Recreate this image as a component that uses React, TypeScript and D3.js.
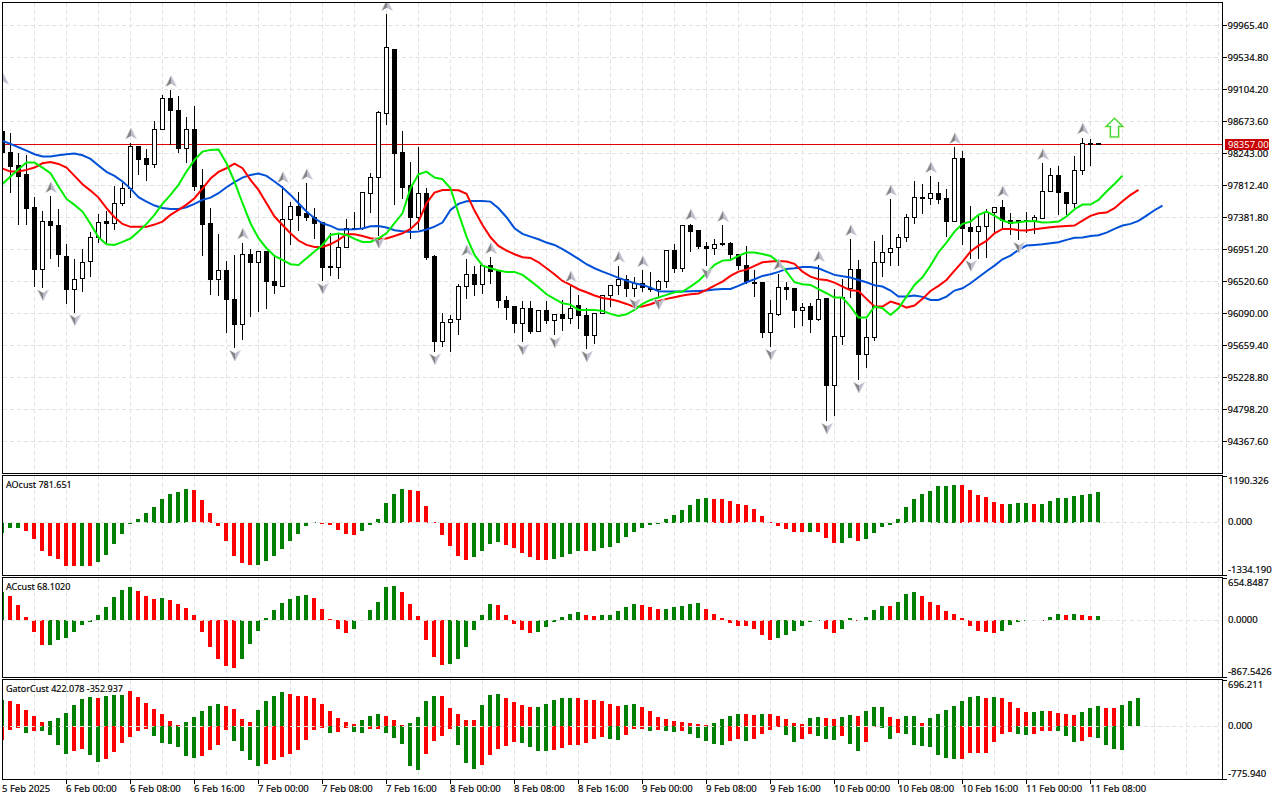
import React, { useEffect, useRef } from "react";
import * as d3 from "d3";

const opens = [
  98531, 98257, 98073, 97952, 97508, 96678, 97329, 97275, 96849, 96409,
  96557, 96786, 97113, 97320, 97302, 97571, 97773, 98338, 98168, 98091,
  98567, 98984, 98822, 98311, 98567, 97804, 97293, 96548, 96669, 96279,
  95938, 96885, 96773, 96916, 96521, 96454, 97356, 97531, 97427, 97383,
  97306, 96714, 96705, 96974, 97230, 97230, 97701, 97921, 98782, 99643,
  98257, 97804, 97374, 97706, 96849, 95710, 95965, 96006, 96454, 96616,
  96477, 96728, 96660, 96266, 96176, 95952, 96158, 95844, 96131, 95992,
  96077, 96019, 96199, 96064, 95790, 96091, 96333, 96468, 96548, 96427,
  96490, 96418, 96405, 96517, 96939, 96692, 97275, 97199, 96992, 96961,
  97033, 97033, 96885, 96737, 96508, 96499, 95835, 96073, 96441, 96418,
  96127, 96176, 96001, 96283, 95118, 95781, 96423, 96683, 95535, 95763,
  96777, 96912, 96979, 97113, 97383, 97652, 97638, 97706, 97629, 97324,
  98177, 97248, 97190, 97257, 97445, 97517, 97338, 97324, 97338, 97338,
  97369, 97728, 97948, 97719, 97567, 98011, 98378, 98378,
];
const highs = [
  99130, 98526, 98253, 98221, 97656, 97468, 97670, 97495, 97024, 96822,
  96957, 97185, 97427, 97468, 97804, 97849, 98392, 98338, 98302, 98688,
  99029, 99096, 99024, 98742, 98881, 98033, 97508, 97158, 96804, 96876,
  97046, 96957, 96925, 96916, 96876, 97804, 97589, 97723, 97845, 97508,
  97306, 97181, 97167, 97360, 97454, 97723, 97988, 98813, 100119, 99643,
  98544, 98136, 98329, 97786, 96885, 96104, 96068, 96486, 96822, 96737,
  96750, 96849, 96660, 96324, 96190, 96257, 96257, 96145, 96257, 96091,
  96270, 96468, 96338, 96172, 96104, 96346, 96481, 96733, 96607, 96580,
  96674, 96647, 96548, 96952, 97024, 97288, 97302, 97212, 97060, 97091,
  97279, 97051, 96885, 96997, 96674, 96499, 96270, 96629, 96512, 96418,
  96239, 96239, 96741, 96283, 96418, 96562, 97091, 96809, 96015, 97064,
  97145, 97629, 97167, 97436, 97872, 97831, 97939, 97858, 97764, 98329,
  98275, 97535, 97414, 97495, 97517, 97616, 97450, 97338, 97463, 97414,
  98114, 98055, 98073, 97732, 98208, 98459, 98446, 98392,
];
const lows = [
  98253, 97715, 97279, 97279, 96450, 96436, 96822, 96719, 96216, 96100,
  96378, 96580, 97042, 97019, 97212, 97535, 97643, 97952, 97872, 98051,
  98558, 98360, 98253, 98114, 97737, 96862, 96338, 96324, 95831, 95624,
  95732, 96046, 96109, 96149, 96351, 96454, 97010, 97199, 97333, 97091,
  96526, 96593, 96553, 96974, 97212, 97212, 97441, 97140, 98625, 97553,
  97629, 97091, 97212, 96809, 95575, 95642, 95575, 95799, 96284, 96324,
  96351, 96486, 96163, 96001, 95826, 95705, 95822, 95840, 95947, 95799,
  95853, 95952, 95880, 95611, 95678, 96082, 96176, 96338, 96315, 96315,
  96387, 96387, 96315, 96432, 96638, 96647, 96916, 96957, 96728, 96876,
  97006, 96831, 96683, 96486, 96315, 95759, 95638, 96064, 96270, 95893,
  95920, 95831, 95988, 94642, 94709, 95665, 96306, 95194, 95355, 95723,
  96580, 96728, 96728, 97051, 97293, 97427, 97549, 97562, 97127, 97324,
  97010, 96831, 96822, 96840, 97167, 97235, 97154, 97078, 97181, 97167,
  97360, 97728, 97414, 97423, 97513, 97957, 98073, 98357,
];
const closes = [
  98253, 98064, 97930, 97495, 96674, 97329, 97266, 96876, 96409, 96548,
  96777, 97113, 97315, 97302, 97571, 97773, 98338, 98159, 98091, 98567,
  98984, 98818, 98307, 98567, 97795, 97284, 96544, 96669, 96275, 95934,
  96885, 96773, 96925, 96517, 96463, 97356, 97531, 97405, 97378, 97297,
  96705, 96705, 96979, 97235, 97235, 97710, 97921, 98795, 99670, 98239,
  97777, 97374, 97706, 96835, 95710, 95970, 96010, 96454, 96616, 96477,
  96728, 96651, 96261, 96167, 95947, 96158, 95840, 96131, 95992, 96077,
  96015, 96158, 96059, 95790, 96091, 96333, 96468, 96548, 96423, 96486,
  96441, 96409, 96517, 96939, 96692, 97275, 97190, 96983, 96961, 97015,
  97015, 96876, 96732, 96512, 96494, 95831, 96091, 96441, 96405, 96122,
  96172, 96001, 96279, 95113, 95781, 96306, 96683, 95535, 95768, 96777,
  96912, 96966, 97113, 97383, 97652, 97638, 97706, 97620, 97324, 98177,
  97230, 97190, 97257, 97450, 97517, 97338, 97302, 97338, 97324, 97383,
  97732, 97948, 97715, 97567, 98015, 98378, 98369, 98357,
];

// alligator lines, already shifted forward like on the terminal
const jaw = [
  98410, 98369, 98325, 98280, 98230, 98199, 98199, 98217, 98230, 98239,
  98217, 98168, 98078, 97993, 97939, 97863, 97768, 97652, 97593, 97540,
  97508, 97495, 97495, 97517, 97562, 97616, 97647, 97706, 97786, 97854,
  97916, 97952, 97970, 97939, 97863, 97782, 97683, 97571, 97459, 97369,
  97302, 97266, 97217, 97217, 97221, 97230, 97262, 97266, 97244, 97208,
  97194, 97185, 97190, 97217, 97257, 97311, 97481, 97562, 97598, 97602,
  97602, 97593, 97504, 97383, 97235, 97158, 97122, 97087, 97042, 97010,
  96952, 96889, 96822, 96750, 96696, 96651, 96611, 96566, 96530, 96494,
  96472, 96436, 96387, 96382, 96382, 96382, 96387, 96391, 96396, 96409,
  96418, 96418, 96459, 96508, 96548, 96593, 96616, 96647, 96687, 96696,
  96714, 96714, 96696, 96651, 96607, 96589, 96571, 96539, 96508, 96468,
  96450, 96396, 96315, 96315, 96329, 96311, 96270, 96270, 96315, 96396,
  96427, 96494, 96575, 96656, 96732, 96817, 96867, 96943, 97001, 97010,
  97019, 97033, 97046, 97078, 97105, 97109, 97131, 97140, 97176, 97226,
  97271, 97293, 97333, 97405, 97477, 97540,
];
const teeth = [
  98037, 97997, 97997, 98020, 98051, 98109, 98127, 98100, 98051, 97939,
  97827, 97741, 97647, 97504, 97383, 97293, 97253, 97253, 97253, 97284,
  97324, 97414, 97481, 97553, 97638, 97768, 97903, 97993, 98042, 98105,
  98042, 97885, 97750, 97571, 97392, 97279, 97167, 97069, 97010, 96983,
  96983, 97019, 97078, 97154, 97154, 97131, 97100, 97091, 97096, 97131,
  97167, 97226, 97324, 97571, 97714, 97750, 97750, 97746, 97697, 97472,
  97279, 97113, 96997, 96934, 96885, 96844, 96835, 96777, 96696, 96616,
  96526, 96472, 96414, 96373, 96329, 96297, 96279, 96252, 96216, 96176,
  96181, 96212, 96252, 96284, 96306, 96329, 96346, 96356, 96405, 96463,
  96517, 96593, 96651, 96678, 96728, 96777, 96786, 96795, 96786, 96755,
  96651, 96584, 96548, 96539, 96503, 96450, 96400, 96391, 96284, 96181,
  96181, 96248, 96216, 96167, 96194, 96284, 96391, 96459, 96539, 96665,
  96786, 96921, 97001, 97064, 97167, 97226, 97226, 97208, 97203, 97221,
  97235, 97248, 97257, 97266, 97271, 97338, 97401, 97436, 97445, 97504,
  97598, 97683, 97750,
];
const lips = [
  97831, 97930, 98028, 98118, 98118, 98051, 97975, 97795, 97629, 97549,
  97459, 97293, 97113, 97019, 97010, 97051, 97096, 97190, 97293, 97414,
  97562, 97683, 97818, 97997, 98154, 98266, 98289, 98293, 98109, 97863,
  97571, 97302, 97100, 96966, 96862, 96808, 96750, 96741, 96831, 96921,
  97010, 97145, 97163, 97145, 97091, 97051, 97051, 97100, 97167, 97302,
  97436, 97773, 97961, 97997, 97916, 97894, 97773, 97436, 97122, 96876,
  96732, 96696, 96665, 96647, 96647, 96607, 96526, 96441, 96346, 96284,
  96225, 96207, 96136, 96136, 96136, 96122, 96082, 96055, 96077, 96136,
  96216, 96270, 96302, 96338, 96373, 96382, 96450, 96526, 96629, 96741,
  96799, 96808, 96862, 96907, 96907, 96889, 96862, 96782, 96651, 96508,
  96481, 96472, 96414, 96360, 96302, 96302, 96181, 96033, 96033, 96181,
  96158, 96068, 96158, 96315, 96472, 96575, 96732, 96912, 97042, 97190,
  97293, 97324, 97414, 97459, 97405, 97338, 97306, 97315, 97329, 97333,
  97311, 97315, 97324, 97392, 97490, 97553, 97553, 97616, 97728, 97831,
  97943,
];

const aoValues = [
  -272, -144, -144, -221, -425, -731, -858, -935, -1096, -1113,
  -1096, -1113, -1011, -833, -552, -297, -42, 102, 255, 408,
  612, 739, 790, 867, 841, 586, 255, -93, -476, -858,
  -1037, -1088, -1088, -986, -858, -680, -476, -297, -93, 25,
  -17, -68, -195, -297, -323, -221, -68, 102, 510, 739,
  867, 841, 816, 433, 25, -323, -603, -858, -960, -884,
  -731, -552, -501, -578, -654, -782, -884, -960, -960, -935,
  -884, -807, -731, -731, -731, -654, -629, -527, -374, -246,
  -144, -68, -17, 102, 204, 331, 459, 612, 637, 612,
  612, 561, 484, 459, 357, 178, 8, -93, -170, -246,
  -246, -246, -246, -399, -527, -527, -399, -476, -425, -272,
  -119, -68, 102, 408, 612, 739, 816, 943, 943, 969,
  969, 841, 714, 663, 535, 484, 484, 510, 510, 484,
  484, 561, 637, 637, 688, 714, 739, 782,
];
const aoColors =
  "gggrrrrrrr" + "grgggggggg" + "ggggrrrrrr" + "rrgggggggg" + "rrrrrggggg" + "grrrrrrrrg" + "gggrrrrrrg" +
  "gggrgggggg" + "gggggggggr" + "rrrrrrrrrr" + "rgrrrggrgg" + "gggggggggg" + "rrrrrrgggr" + "gggggggg";

const acValues = [
  428, 367, 230, 46, -184, -383, -383, -306, -275, -184,
  -77, -31, 77, 199, 352, 459, 505, 444, 367, 321,
  337, 306, 245, 184, 77, -184, -413, -597, -704, -734,
  -597, -367, -168, 31, 153, 260, 321, 367, 383, 337,
  168, 15, -138, -199, -138, -15, 153, 275, 505, 520,
  428, 245, 61, -306, -566, -689, -673, -597, -413, -153,
  77, 245, 230, 77, -61, -153, -199, -184, -107, -31,
  46, 92, 122, 77, 61, 77, 77, 138, 199, 245,
  230, 199, 168, 168, 199, 214, 245, 260, 168, 92,
  31, -46, -92, -92, -138, -230, -306, -275, -230, -168,
  -92, -31, -15, -138, -199, -138, 31, -15, 46, 153,
  214, 214, 275, 398, 428, 367, 275, 230, 138, 92,
  31, -92, -168, -184, -199, -168, -77, -31, -15, -15,
  -10, 46, 92, 77, 92, 77, 61, 68,
];
const acColors =
  "grrrrrgggg" + "gggggggrrr" + "grrrrrrrrr" + "gggggggggr" + "rrrrgggggg" + "rrrrrrgggg" + "ggrrrrrggg" +
  "gggrrggggg" + "rrrgggggrr" + "rrrrrrrggg" + "gggrrggrgg" + "grgggrrrrr" + "rrrrrggggr" + "rggrgrrg";

const gatorUp = [
  385, 370, 325, 237, 148, 59, 74, 118, 192, 311,
  399, 429, 414, 458, 473, 473, 518, 429, 340, 251,
  177, 74, 15, 59, 133, 222, 296, 325, 296, 251,
  104, 59, 237, 370, 458, 503, 488, 458, 444, 414,
  325, 222, 118, 59, 39, 89, 148, 177, 148, 89,
  15, 44, 133, 370, 458, 444, 266, 177, 89, 89,
  311, 473, 488, 414, 355, 311, 281, 281, 325, 385,
  414, 414, 414, 385, 385, 370, 325, 296, 311, 325,
  281, 222, 133, 104, 74, 59, 44, 30, 15, 44,
  104, 148, 177, 177, 163, 177, 177, 148, 104, 44,
  30, 118, 133, 118, 104, 133, 163, 148, 222, 281,
  281, 133, 104, 148, 148, 44, 118, 177, 237, 296,
  370, 429, 444, 414, 429, 414, 355, 266, 207, 207,
  222, 222, 192, 177, 163, 207, 266, 296, 266, 266,
  311, 370, 422,
];
const gatorUpColors =
  "grrrrrgggg" + "ggrgggrrrr" + "rrrgggggrr" + "rrggggrrrr" + "rrrrrgggrr" + "rggggrrrrr" + "gggrrrrggg" +
  "ggrrrrrrgg" + "rrrrrrrrrg" + "gggrrgrrrr" + "rggrrggrgg" + "grrggrgggg" + "gggrgrrrrg" + "grrrrgggrr" + "ggg";

const gatorDown = [
  -197, -49, -25, -104, -69, -69, -133, -281, -414, -370,
  -340, -429, -532, -488, -385, -251, -163, -74, -44, -148,
  -251, -266, -311, -444, -473, -444, -355, -281, -59, -222,
  -370, -503, -592, -562, -503, -458, -414, -355, -207, -59,
  -30, -104, -89, -30, -89, -104, -44, -44, -104, -177,
  -266, -592, -651, -414, -222, -148, -44, -281, -547, -636,
  -577, -429, -340, -296, -237, -251, -311, -370, -370, -355,
  -325, -281, -281, -251, -192, -163, -192, -207, -133, -44,
  -44, -74, -59, -74, -89, -74, -118, -177, -222, -266,
  -281, -222, -192, -222, -192, -118, -59, -15, -133, -237,
  -192, -118, -148, -192, -207, -148, -266, -370, -237, -15,
  -30, -192, -104, -118, -281, -296, -311, -429, -473, -488,
  -488, -399, -399, -399, -237, -118, -89, -118, -133, -118,
  -74, -74, -74, -148, -237, -222, -163, -177, -281, -340,
  -353,
];
const gatorDownColors =
  "rrrgrggggr" + "rggrrrrrrg" + "gggggrrrrg" + "gggrrrrrrr" + "rgrrggrrgg" + "gggrrrrggg" + "rrrrrggggr" +
  "rrrrrrggrr" + "rgrggrgggg" + "grrgrrrrgg" + "rrgggrggrr" + "ggrggggggg" + "rrrrrrrggr" + "rrgggrrgggg";

const fractalUp = [0, 6, 16, 21, 30, 35, 38, 48, 58, 61, 71, 77, 80, 86, 90, 97, 102, 106, 111, 116, 119, 125, 130, 135];
const fractalDown = [5, 9, 29, 40, 47, 54, 65, 69, 73, 79, 82, 88, 96, 103, 107, 121, 127];

const priceTicks = [
  99965.4, 99534.8, 99104.2, 98673.6, 98243.0, 97812.4, 97381.8, 96951.2, 96520.6, 96090.0, 95659.4, 95228.8, 94798.2, 94367.6,
];
const timeLabels = [
  "5 Feb 2025", "6 Feb 00:00", "6 Feb 08:00", "6 Feb 16:00", "7 Feb 00:00", "7 Feb 08:00", "7 Feb 16:00", "8 Feb 00:00", "8 Feb 08:00",
  "8 Feb 16:00", "9 Feb 00:00", "9 Feb 08:00", "9 Feb 16:00", "10 Feb 00:00", "10 Feb 08:00", "10 Feb 16:00", "11 Feb 00:00", "11 Feb 08:00",
];
const currentPrice = 98357;
const signalBar = 139;
const signalPrice = 98585;

const FONT = "'Noto Sans', sans-serif";
const GRID = "#e2e2e2";
const BAR_GREEN = "#008000";
const BAR_RED = "#ff0000";
const LEFT = 2.5;
const RIGHT = 1222.5;

const snap = (v: number) => Math.floor(v) + 0.5;

const App: React.FC = () => {
  const svgRef = useRef<SVGSVGElement | null>(null);

  useEffect(() => {
    const svg = d3.select(svgRef.current);
    svg.selectAll("*").remove();

    const x = d3.scaleLinear().domain([0, 1]).range([2.5, 10.5]);
    const yPrice = d3.scaleLinear().domain([99965.4, 94367.6]).range([25.3, 441.3]);
    const yAO = d3.scaleLinear().domain([1190.326, -1334.19]).range([476, 575]);
    const yAC = d3.scaleLinear().domain([654.8487, -867.5426]).range([577.5, 676.5]);
    const yGator = d3.scaleLinear().domain([696.211, -775.94]).range([679.5, 778.5]);

    const panels = [
      { top: 2.5, bottom: 473.5 },
      { top: 475.5, bottom: 575.5 },
      { top: 577.5, bottom: 677.5 },
      { top: 679.5, bottom: 779.5 },
    ];

    svg.append("rect").attr("width", 1280).attr("height", 800).attr("fill", "#fff");

    const defs = svg.append("defs");
    defs.append("clipPath").attr("id", "plot").append("rect").attr("x", 3).attr("y", 3).attr("width", 1219).attr("height", 776);

    const plot = svg.append("g").attr("clip-path", "url(#plot)");

    // Grid
    const grid = plot.append("g").attr("stroke", GRID).attr("stroke-dasharray", "4 3").attr("shape-rendering", "crispEdges");
    panels.forEach(p => {
      d3.range(4, 153, 4).forEach(i => {
        grid.append("line").attr("x1", x(i)).attr("x2", x(i)).attr("y1", p.top).attr("y2", p.bottom);
      });
    });
    priceTicks.forEach(t => {
      const y = snap(yPrice(t));
      grid.append("line").attr("x1", LEFT).attr("x2", RIGHT).attr("y1", y).attr("y2", y);
    });

    // Current price line
    const priceY = snap(yPrice(currentPrice));
    plot.append("line").attr("x1", LEFT).attr("x2", RIGHT).attr("y1", priceY).attr("y2", priceY)
      .attr("stroke", "#e00000").attr("shape-rendering", "crispEdges");

    // Candles
    const candles = plot.append("g").attr("shape-rendering", "crispEdges");
    opens.forEach((open, i) => {
      const close = closes[i];
      const cx = x(i);
      candles.append("line").attr("x1", cx).attr("x2", cx)
        .attr("y1", snap(yPrice(highs[i]))).attr("y2", snap(yPrice(lows[i]))).attr("stroke", "#000");
      const top = snap(yPrice(Math.max(open, close)));
      const bottom = snap(yPrice(Math.min(open, close)));
      candles.append("rect").attr("x", cx - 2).attr("y", top).attr("width", 4).attr("height", Math.max(bottom - top, 1))
        .attr("fill", close >= open ? "#fff" : "#000").attr("stroke", "#000");
    });

    // Alligator
    const line = d3.line<number>().x((_, i) => x(i)).y(d => yPrice(d));
    const alligator: [number[], string][] = [[jaw, "#0050d8"], [teeth, "#ff0000"], [lips, "#00ee00"]];
    alligator.forEach(([values, color]) => {
      plot.append("path").attr("d", line(values)).attr("fill", "none").attr("stroke", color).attr("stroke-width", 2);
    });

    // Fractals
    const drawFractal = (i: number, y: number, dir: number) => {
      const g = plot.append("g").attr("transform", `translate(${x(i) + 0.5},${y}) scale(1,${dir})`);
      g.append("path").attr("d", "M0,-5.5 L-5.5,5 L0,2 L5.5,5 Z").attr("fill", "none").attr("stroke", "#dcdce6").attr("stroke-width", 1);
      g.append("path").attr("d", "M0,-5.5 L-5,5 L0,2 Z").attr("fill", "#858585");
      g.append("path").attr("d", "M0,-5.5 L5,5 L0,2 Z").attr("fill", "#bcbdca");
    };
    fractalUp.forEach(i => drawFractal(i, yPrice(highs[i]) - 8.5, 1));
    fractalDown.forEach(i => drawFractal(i, yPrice(lows[i]) + 7.5, -1));

    // Buy signal arrow
    const arrow = plot.append("g").attr("transform", `translate(${x(signalBar)},${yPrice(signalPrice)})`);
    const arrowPath = "M0,-9.5 L8,-1.5 L4,-1.5 L4,9 L-4,9 L-4,-1.5 L-8,-1.5 Z";
    arrow.append("path").attr("d", arrowPath).attr("fill", "none").attr("stroke", "#e0f0a0").attr("stroke-width", 2.6);
    arrow.append("path").attr("d", arrowPath).attr("fill", "#fff").attr("stroke", "#3cd83c").attr("stroke-width", 1.3);

    // Histograms
    const drawBars = (values: number[], colors: string, y: d3.ScaleLinear<number, number>) => {
      const g = plot.append("g").attr("shape-rendering", "crispEdges");
      values.forEach((v, i) => {
        const y0 = Math.round(y(0));
        const y1 = Math.round(y(v));
        g.append("rect").attr("x", x(i) - 2.5).attr("width", 4)
          .attr("y", Math.min(y0, y1)).attr("height", Math.max(Math.abs(y1 - y0), 1))
          .attr("fill", colors[i] === "g" ? BAR_GREEN : BAR_RED);
      });
    };
    drawBars(aoValues, aoColors, yAO);
    drawBars(acValues, acColors, yAC);
    drawBars(gatorUp, gatorUpColors, yGator);
    drawBars(gatorDown, gatorDownColors, yGator);

    // Zero lines sit on top of the bars
    [yAO, yAC, yGator].forEach(y => {
      const y0 = snap(y(0));
      plot.append("line").attr("x1", LEFT).attr("x2", RIGHT).attr("y1", y0).attr("y2", y0)
        .attr("stroke", GRID).attr("stroke-dasharray", "4 3").attr("shape-rendering", "crispEdges");
    });

    // Frames
    const frames = svg.append("g").attr("fill", "none").attr("stroke", "#000").attr("shape-rendering", "crispEdges");
    panels.forEach(p => {
      frames.append("rect").attr("x", LEFT).attr("y", p.top).attr("width", RIGHT - LEFT).attr("height", p.bottom - p.top);
    });

    const labels = svg.append("g").attr("font-family", FONT).attr("font-size", 9.5).attr("fill", "#000")
      .attr("stroke", "#000").attr("stroke-width", 0.15);
    const ticks = svg.append("g").attr("stroke", "#000").attr("shape-rendering", "crispEdges");

    // Price axis
    priceTicks.forEach(t => {
      const y = snap(yPrice(t));
      ticks.append("line").attr("x1", RIGHT).attr("x2", RIGHT + 4).attr("y1", y).attr("y2", y);
      labels.append("text").attr("x", 1227.5).attr("y", y + 3.2).text(t.toFixed(2));
    });
    svg.append("rect").attr("x", 1225).attr("y", 139).attr("width", 44).attr("height", 11).attr("fill", "#c80000");
    svg.append("text").attr("x", 1228).attr("y", 148).attr("font-family", FONT).attr("font-size", 9.5).attr("fill", "#fff")
      .text(currentPrice.toFixed(2));

    // Indicator scales
    const subAxes: { y: number; tick?: number; text: string }[] = [
      { y: 484, tick: 476, text: "1190.326" },
      { y: 525, text: "0.000" },
      { y: 573, tick: 575, text: "-1334.190" },
      { y: 586, tick: 578, text: "654.8487" },
      { y: 623, text: "0.0000" },
      { y: 675, tick: 677, text: "-867.5426" },
      { y: 688, tick: 680, text: "696.211" },
      { y: 729, text: "0.000" },
      { y: 777, tick: 779, text: "-775.940" },
    ];
    subAxes.forEach(a => {
      labels.append("text").attr("x", 1228).attr("y", a.y).text(a.text);
      if (a.tick !== undefined) {
        ticks.append("line").attr("x1", RIGHT).attr("x2", RIGHT + 4).attr("y1", a.tick + 0.5).attr("y2", a.tick + 0.5);
      }
    });

    // Indicator names
    const names = labels.append("g").attr("font-size", 9);
    names.append("text").attr("x", 6).attr("y", 488).text("AOcust 781.651");
    names.append("text").attr("x", 6).attr("y", 590).text("ACcust 68.1020");
    names.append("text").attr("x", 6).attr("y", 692).text("GatorCust 422.078 -352.937");

    // Time axis
    timeLabels.forEach((label, k) => {
      const px = x(k * 8);
      if (k > 0) ticks.append("line").attr("x1", px).attr("x2", px).attr("y1", 780).attr("y2", 784);
      labels.append("text").attr("x", k === 0 ? 2 : px - 0.5).attr("y", 792).text(label);
    });
  }, []);

  return <svg ref={svgRef} width={1280} height={800} style={{ position: "absolute", left: 0, top: 0 }}></svg>;
};

export default App;
